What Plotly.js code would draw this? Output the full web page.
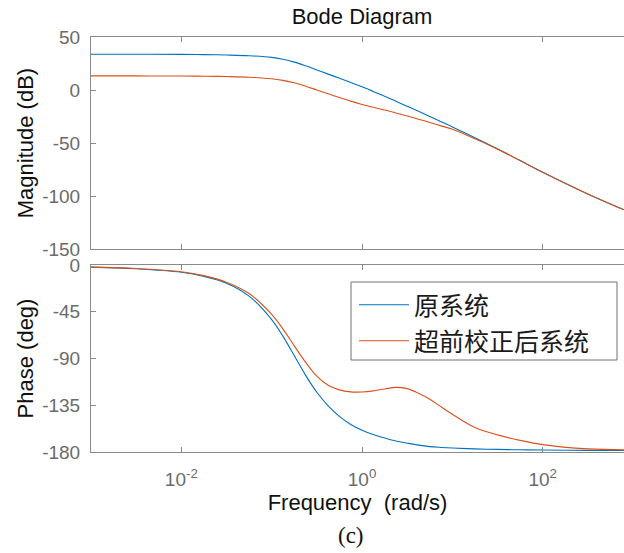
<!DOCTYPE html>
<html>
<head>
<meta charset="utf-8">
<script src="https://cdn.plot.ly/plotly-3.0.1.min.js"></script>
<style>html,body{margin:0;padding:0;background:#fff;}#chart{width:624px;height:553px;}</style>
</head>
<body>
<div id="chart"></div>
<script>
// Frequency grid (rad/s)
const freq = [0.001, 0.00316, 0.01, 0.0178, 0.0316, 0.0562, 0.1, 0.133, 0.178, 0.237, 0.316, 0.422, 0.562, 0.75, 1, 1.33, 1.78, 2.37, 3.16, 4.22, 5.62, 7.5, 10, 17.8, 31.6, 56.2, 100, 316, 794];

// Magnitude (dB)
const magOrig = [33.7, 33.7, 33.6, 33.4, 33.0, 32.3, 30.8, 29.0, 26.3, 22.8, 18.9, 15.0, 11.1, 7.1, 3.0, -1.3, -5.8, -10.5, -15.3, -20.1, -25.0, -29.9, -34.8, -45.0, -55.5, -66.5, -77.5, -98.0, -113.0];
const magLead = [13.3, 13.3, 13.2, 13.0, 12.7, 12.1, 10.6, 9.1, 6.8, 3.6, 0.0, -3.6, -7.1, -10.5, -13.6, -16.3, -18.9, -21.6, -24.5, -27.5, -30.6, -33.8, -37.0, -46.0, -55.8, -66.5, -77.5, -98.0, -113.0];

// Phase (deg)
const phOrig = [-2.0, -3.6, -7.0, -11.0, -17.5, -30.0, -52.5, -68.5, -87.3, -106.0, -122.5, -135.5, -145.7, -153.5, -159.0, -163.2, -166.5, -169.4, -171.5, -173.4, -174.8, -175.6, -176.2, -177.0, -177.5, -177.9, -178.1, -178.4, -178.6];
const phLead = [-2.0, -3.4, -6.5, -10.2, -16.5, -27.5, -47.5, -61.5, -77.8, -93.5, -107.0, -115.8, -120.2, -122.1, -122.2, -121.2, -119.3, -117.8, -119.0, -123.5, -129.3, -136.5, -143.6, -156.5, -163.5, -168.8, -172.9, -177.0, -177.9];

const seriesNames = ['原系统', '超前校正后系统'];
const xTickVals = [0.01, 1, 100];
const xTickText = ['10<sup>-2</sup>', '10<sup>0</sup>', '10<sup>2</sup>'];
const magTicks = [50, 0, -50, -100, -150];
const magTickText = ['50', '0', '-50', '-100', '-150'];
const phTicks = [0, -45, -90, -135, -180];
const phTickText = ['0', '-45', '-90', '-135', '-180'];

const blue = '#0072BD', orange = '#D95319';
const axisCol = '#8a8a8a', tickCol = '#6b6b6b';
const sans = 'Liberation Sans, Arial, sans-serif';

const traces = [
  {x: freq, y: magOrig, xaxis: 'x2', yaxis: 'y', type: 'scatter', mode: 'lines', line: {color: blue, width: 1.1, shape: 'spline'}, showlegend: false, name: seriesNames[0]},
  {x: freq, y: magLead, xaxis: 'x2', yaxis: 'y', type: 'scatter', mode: 'lines', line: {color: orange, width: 1.1, shape: 'spline'}, showlegend: false, name: seriesNames[1]},
  {x: freq, y: phOrig, xaxis: 'x', yaxis: 'y2', type: 'scatter', mode: 'lines', line: {color: blue, width: 1.1, shape: 'spline'}, name: seriesNames[0], legend: 'legend'},
  {x: freq, y: phLead, xaxis: 'x', yaxis: 'y2', type: 'scatter', mode: 'lines', line: {color: orange, width: 1.1, shape: 'spline'}, name: seriesNames[1], legend: 'legend2'}
];

const baseFont = {family: sans, size: 19, color: tickCol};
const titleFont = {family: sans, size: 22, color: '#111'};
const commonX = {
  type: 'log', range: [-3, 2.9], showgrid: false, zeroline: false,
  showline: true, linecolor: axisCol, linewidth: 1, mirror: 'ticks',
  ticks: 'inside', ticklen: 5, tickcolor: axisCol, tickvals: xTickVals, ticktext: xTickText
};
const commonY = {
  showgrid: false, zeroline: false, showline: true, linecolor: axisCol, linewidth: 1,
  ticks: 'inside', ticklen: 5, tickcolor: axisCol, tickfont: baseFont, ticklabelstandoff: 6
};
const legFont = {family: 'Noto Sans CJK SC, sans-serif', size: 25, color: '#1a1a1a'};
const legCommon = {xanchor: 'left', yanchor: 'top', bgcolor: 'rgba(0,0,0,0)', borderwidth: 0, font: legFont, itemwidth: 50, tracegroupgap: 0};

const layout = {
  width: 624, height: 553,
  margin: {l: 91, r: 0, t: 37, b: 101},
  paper_bgcolor: '#ffffff', plot_bgcolor: '#ffffff',
  font: baseFont,
  title: {text: 'Bode Diagram', font: titleFont, xref: 'container', x: 362 / 624, xanchor: 'center', yref: 'container', y: 1 - 16 / 553, yanchor: 'middle'},
  xaxis: Object.assign({}, commonX, {anchor: 'y2', domain: [0, 1], showticklabels: true, tickfont: baseFont, ticklabelstandoff: 10,
    title: {text: 'Frequency  (rad/s)', font: titleFont, standoff: 0}}),
  xaxis2: Object.assign({}, commonX, {anchor: 'y', domain: [0, 1], showticklabels: false, matches: 'x'}),
  yaxis: Object.assign({}, commonY, {domain: [0.489, 1], range: [-150, 50], tickvals: magTicks, ticktext: magTickText, anchor: 'x2',
    title: {text: 'Magnitude (dB)', font: titleFont, standoff: 2}}),
  yaxis2: Object.assign({}, commonY, {domain: [0, 0.4506], range: [-180, 0], tickvals: phTicks, ticktext: phTickText, anchor: 'x',
    title: {text: 'Phase (deg)', font: titleFont, standoff: 2}}),
  legend: Object.assign({}, legCommon, {x: (354 - 91) / 533, y: (452 - 282) / 415}),
  legend2: Object.assign({}, legCommon, {x: (354 - 91) / 533, y: (452 - 318) / 415}),
  shapes: [
    {type: 'rect', xref: 'paper', yref: 'paper', x0: (351 - 91) / 533, x1: (617 - 91) / 533, y0: (452 - 360) / 415, y1: (452 - 282) / 415,
     line: {color: '#707070', width: 1}, fillcolor: '#ffffff', layer: 'above'}
  ],
  annotations: [
    {text: '(c)', xref: 'paper', yref: 'paper', x: (351 - 91) / 533, y: (452 - 535) / 415, xanchor: 'center', yanchor: 'middle', showarrow: false,
     font: {family: 'Liberation Serif, Times New Roman, serif', size: 23, color: '#111'}}
  ],
  showlegend: true
};

Plotly.newPlot('chart', traces, layout, {displayModeBar: false, staticPlot: true});
</script>
</body>
</html>
